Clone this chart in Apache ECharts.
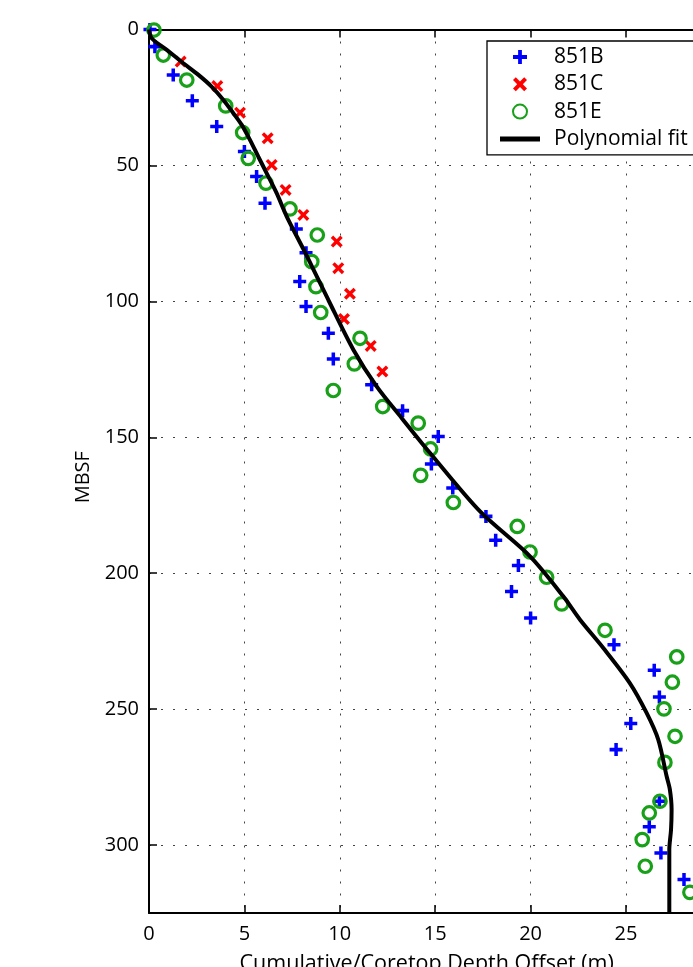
<!DOCTYPE html>
<html>
<head>
<meta charset="utf-8">
<script src="https://cdn.jsdelivr.net/npm/echarts@6/dist/echarts.min.js"></script>
<style>
html,body{margin:0;padding:0;background:#fff;}
#chart{width:693px;height:967px;}
</style>
</head>
<body>
<div id="chart"></div>
<script>
// ---- data ----
const depthB = [0, 6.3, 16.7, 26.2, 35.7, 44.9, 54.1, 63.9, 73.4, 82.1, 92.7, 101.9, 111.7, 121.2, 130.7, 140.2, 149.7, 159.8, 168.7, 179.1, 187.9, 197.2, 206.7, 216.5, 226.3, 235.7, 245.5, 255.3, 264.9, 283.9, 293.3, 302.9, 312.7];
const offsetB = [0.05, 0.31, 1.27, 2.27, 3.55, 5.0, 5.64, 6.08, 7.72, 8.23, 7.9, 8.23, 9.4, 9.66, 11.67, 13.29, 15.16, 14.8, 15.92, 17.66, 18.17, 19.36, 19.0, 20.0, 24.37, 26.48, 26.75, 25.25, 24.48, 26.75, 26.22, 26.83, 28.04];

const depthC = [11.8, 20.8, 30.6, 40.0, 49.8, 59.0, 68.2, 78.0, 87.8, 97.2, 106.5, 116.4, 125.8];
const offsetC = [1.66, 3.58, 4.77, 6.22, 6.43, 7.16, 8.09, 9.84, 9.92, 10.53, 10.22, 11.62, 12.23];

const depthE = [0.2, 9.4, 18.6, 28.1, 37.9, 47.4, 56.5, 66.0, 75.6, 85.4, 94.6, 104.1, 113.6, 123.0, 132.8, 138.7, 144.8, 154.3, 164.0, 174.0, 182.8, 192.2, 201.5, 211.3, 221.0, 230.8, 240.1, 249.9, 260.0, 269.6, 283.9, 288.2, 298.0, 307.8, 317.4];
const offsetE = [0.26, 0.75, 1.98, 4.02, 4.91, 5.2, 6.13, 7.39, 8.82, 8.53, 8.75, 9.0, 11.06, 10.76, 9.66, 12.25, 14.11, 14.76, 14.24, 15.95, 19.3, 19.97, 20.84, 21.63, 23.9, 27.66, 27.43, 26.99, 27.57, 27.04, 26.78, 26.22, 25.85, 26.01, 28.35];

const fitDepth = [0, 3.2, 7.5, 12.4, 16.7, 21.0, 25.9, 30.8, 35.1, 40.6, 46.8, 52.9, 60.2, 68.8, 82.3, 99.5, 117.8, 131.3, 142.9, 155.8, 177.3, 193.8, 208.5, 217.1, 227.5, 240.4, 251.4, 261.2, 274.7, 279.6, 287.0, 294.3, 301.7, 325];
const fitOffset = [0, 0.14, 0.93, 1.8, 2.59, 3.28, 3.9, 4.42, 4.86, 5.29, 5.73, 6.17, 6.69, 7.22, 8.2, 9.4, 10.71, 11.93, 13.24, 14.73, 17.35, 19.97, 21.71, 22.59, 23.81, 25.2, 26.08, 26.69, 27.13, 27.3, 27.39, 27.36, 27.27, 27.27];

const seriesNames = ['851B', '851C', '851E', 'Polynomial fit'];
const xTitle = 'Cumulative/Coretop Depth Offset (m)';
const yTitle = 'MBSF';

// ---- build ----
function pairs(xs, ys) { return xs.map((x, i) => [x, ys[i]]); }
const plusPath = 'path://M-0.27,-1 L0.27,-1 L0.27,-0.27 L1,-0.27 L1,0.27 L0.27,0.27 L0.27,1 L-0.27,1 L-0.27,0.27 L-1,0.27 L-1,-0.27 L-0.27,-0.27 Z';
const crossPath = 'path://M-1,-0.6 L-0.6,-1 L0,-0.4 L0.6,-1 L1,-0.6 L0.4,0 L1,0.6 L0.6,1 L0,0.4 L-0.6,1 L-1,0.6 L-0.4,0 Z';
const linePath = 'path://M0,0 L40,0 L40,5 L0,5 Z';
const FONT = 'Open Sans';
const GREEN = '#19a019';

const chart = echarts.init(document.getElementById('chart'), null, {renderer: 'canvas'});
const xCommon = {
  type: 'value', min: 0, max: 30, interval: 5,
  axisLine: {show: true, onZero: false, lineStyle: {color: '#000', width: 2}},
  axisTick: {show: true, inside: true, length: 8, lineStyle: {color: '#000', width: 1.5}}
};
chart.setOption({
  animation: false,
  backgroundColor: '#fff',
  textStyle: {fontFamily: FONT},
  grid: {left: 149, top: 29.5, right: -28.4, bottom: 54, containLabel: false, outerBoundsMode: 'none'},
  xAxis: [
    Object.assign({}, xCommon, {
      position: 'bottom',
      name: xTitle, nameLocation: 'middle', nameGap: 40,
      nameTextStyle: {fontFamily: FONT, fontSize: 21.5, color: '#000', lineHeight: 22, verticalAlign: 'top', padding: [0, 17, 0, 0]},
      axisLabel: {show: true, margin: 11, fontFamily: FONT, fontSize: 20, color: '#000'},
      splitLine: {show: true, lineStyle: {color: '#444', width: 1, type: [2, 10]}}
    }),
    Object.assign({}, xCommon, {
      position: 'top',
      axisLabel: {show: false},
      splitLine: {show: false}
    })
  ],
  yAxis: {
    type: 'value', min: 0, max: 325, interval: 50, inverse: true,
    name: yTitle, nameLocation: 'middle', nameGap: 55, nameRotate: 90,
    nameTextStyle: {fontFamily: FONT, fontSize: 20, color: '#000', padding: [0, 12, 0, 0]},
    axisLine: {show: true, onZero: false, lineStyle: {color: '#000', width: 2}},
    axisTick: {show: true, inside: true, length: 8, lineStyle: {color: '#000', width: 1.5}},
    axisLabel: {show: true, margin: 10, fontFamily: FONT, fontSize: 20, color: '#000',
      formatter: v => (v % 50 === 0 ? String(v) : '')},
    splitLine: {show: true, lineStyle: {color: '#444', width: 1, type: [2, 10]}}
  },
  legend: {
    orient: 'vertical', left: 487, top: 41,
    padding: [5, 40, 5, 13],
    itemWidth: 40, itemHeight: 14, itemGap: 5.3,
    borderColor: '#000', borderWidth: 1.3, backgroundColor: '#fff',
    textStyle: {fontFamily: FONT, fontSize: 21, color: '#000', lineHeight: 22, padding: [0, 0, 0, 9]},
    data: [
      {name: seriesNames[0]},
      {name: seriesNames[1]},
      {name: seriesNames[2]},
      {name: seriesNames[3], icon: linePath, itemStyle: {color: '#000'}}
    ]
  },
  series: [
    {
      name: seriesNames[0], type: 'scatter', data: pairs(offsetB, depthB),
      symbol: plusPath, symbolSize: 13, itemStyle: {color: '#0000ff', opacity: 1}, z: 2
    },
    {
      name: seriesNames[1], type: 'scatter', data: pairs(offsetC, depthC),
      symbol: crossPath, symbolSize: 12, itemStyle: {color: '#ff0000', opacity: 1}, z: 3
    },
    {
      name: seriesNames[2], type: 'scatter', data: pairs(offsetE, depthE),
      symbol: 'circle', symbolSize: 12.5,
      itemStyle: {color: 'rgba(0,0,0,0)', borderColor: GREEN, borderWidth: 3.2, opacity: 1}, z: 4
    },
    {
      name: seriesNames[3], type: 'line', data: pairs(fitOffset, fitDepth),
      symbol: 'none', showSymbol: false, smooth: 0.3,
      lineStyle: {color: '#000', width: 4}, itemStyle: {color: '#000'}, z: 5
    }
  ]
});
</script>
</body>
</html>
